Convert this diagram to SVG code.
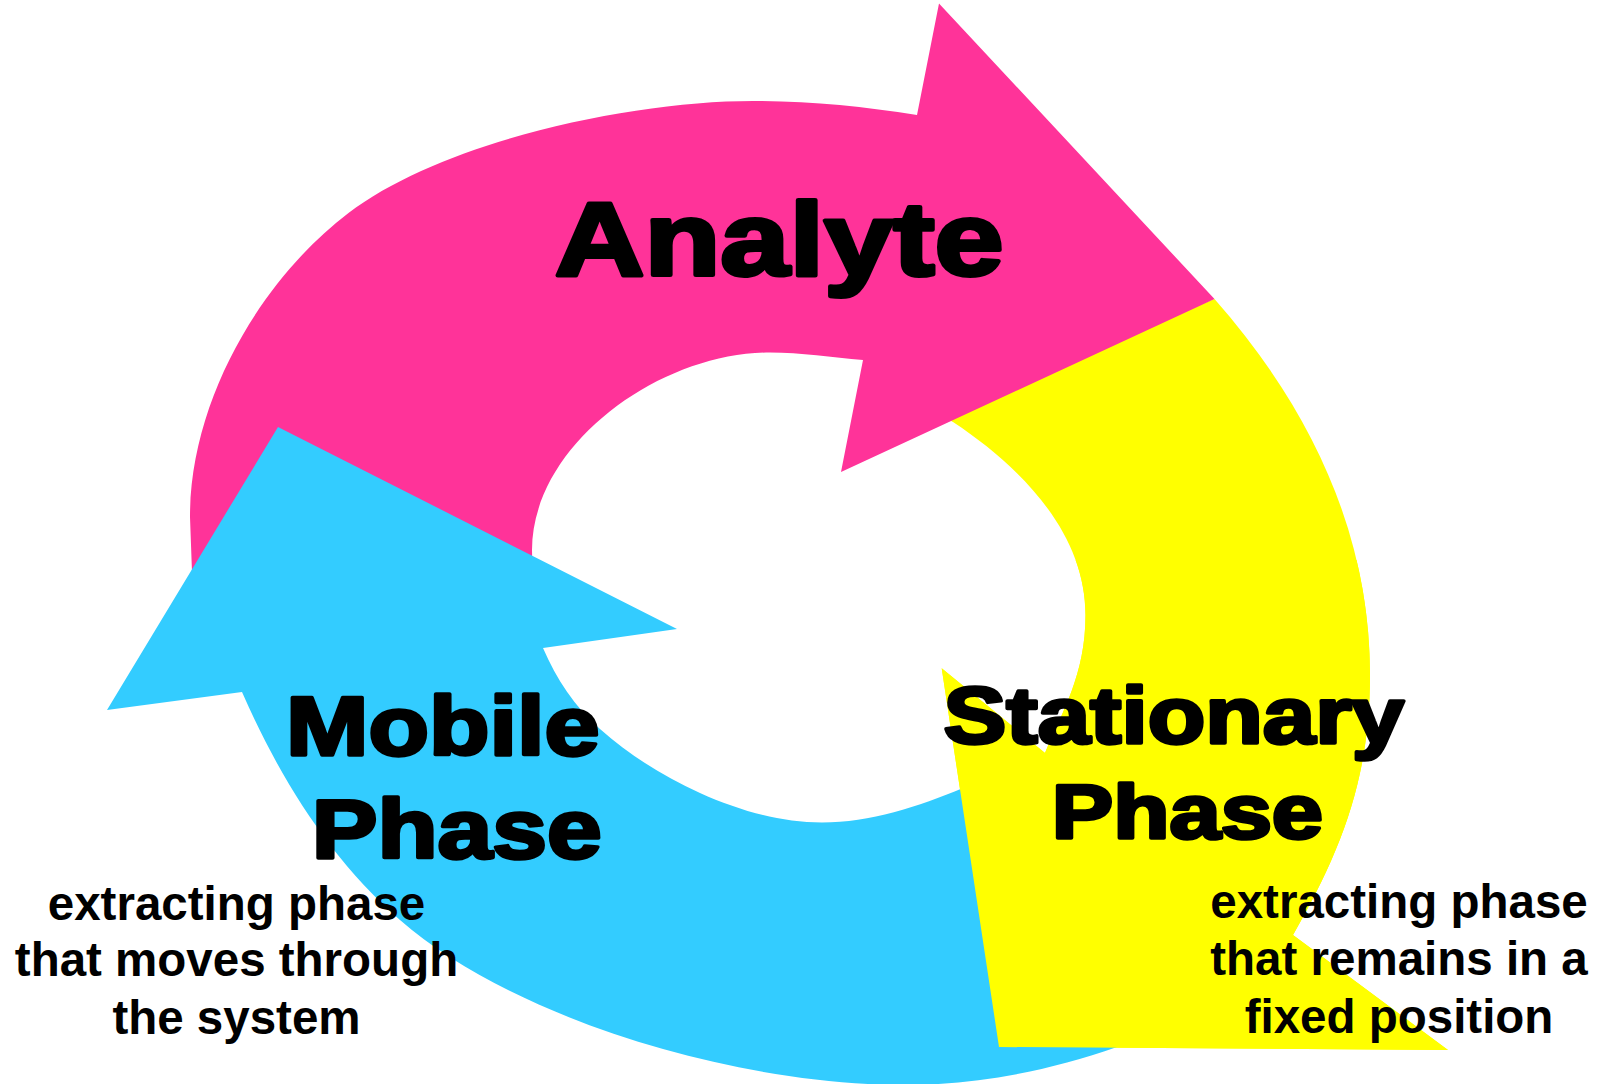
<svg xmlns="http://www.w3.org/2000/svg" xmlns:xlink="http://www.w3.org/1999/xlink" width="1607" height="1084" viewBox="0 0 1607 1084">
<style>
.pink{fill:#FF3399}
.cyan{fill:#33CCFF}
.yellow{fill:#FFFF00}
.h{font-family:"Liberation Sans",Arial,sans-serif;font-weight:bold;fill:#000;stroke:#000;stroke-linejoin:round}
.b{font-family:"Liberation Sans",Arial,sans-serif;font-weight:bold;font-size:47.5px;fill:#000;text-anchor:middle}
</style>
<defs>
<path id="yellow-arrow" class="yellow" d="M 1214.5 299 C 1320.1 419, 1370 545, 1370 675 C 1370 780, 1340.1 852.6, 1293 935 L 1448 1050 L 999 1047 L 941.7 668.3 L 1045 753 C 1062.2 711.4, 1085.5 675, 1085.5 615 C 1085.5 535, 1024 468.8, 953 422 L 935 412 Z"/>
<clipPath id="front"><rect x="0" y="560" width="1607" height="524"/></clipPath>
</defs>
<rect x="0" y="0" width="1607" height="1084" fill="#FFFFFF"/>
<g id="node-stationary-phase-tail">
<use xlink:href="#yellow-arrow" href="#yellow-arrow"/>
</g>
<g id="node-analyte">
<path class="pink" d="M 193 600 L 190 517 C 190 399, 262.4 278.2, 348.5 213 C 444.1 140.5, 633 101, 753 101 C 808 101, 862.7 106.3, 917 115 L 939 3.5 L 1214.5 299 L 841 472 L 863 360 C 832 357.5, 801 352.5, 770 352.5 C 658 352.5, 532 446, 532 550 L 533 600 Z"/>
<text class="h" x="554.7" y="274.7" font-size="104" stroke-width="4" textLength="449" lengthAdjust="spacingAndGlyphs">Analyte</text>
</g>
<g id="node-mobile-phase">
<path class="cyan" d="M 278 427 L 677 629 L 543 648 C 556.6 679.2, 574.5 706.5, 600 729 C 630 755.4, 663.6 776.6, 700 793 C 738.3 810.2, 780 822.5, 822 822.5 C 870 822.5, 918.7 806.6, 963 788 C 975 783, 987 776, 998 770 L 1200 1012 L 1117 1047 C 1049 1070.8, 977 1085, 905 1085 C 735 1085, 513.1 1018.6, 400 920 C 329.9 858.9, 279.2 777.3, 242 692 L 107 710 Z"/>
<text class="h" x="286" y="755" font-size="84" stroke-width="3.5" textLength="313.5" lengthAdjust="spacingAndGlyphs">Mobile</text>
<text class="h" x="311.8" y="857.5" font-size="84" stroke-width="3.5" textLength="290" lengthAdjust="spacingAndGlyphs">Phase</text>
<text class="b" x="236.5" y="920">extracting phase</text>
<text class="b" x="236.5" y="976">that moves through</text>
<text class="b" x="236.5" y="1034">the system</text>
</g>
<g id="node-stationary-phase">
<use xlink:href="#yellow-arrow" href="#yellow-arrow" clip-path="url(#front)"/>
<text class="h" x="943.5" y="743" font-size="80" stroke-width="3.5" textLength="460.7" lengthAdjust="spacingAndGlyphs">Stationary</text>
<text class="h" x="1051.8" y="838.3" font-size="76.5" stroke-width="3.5" textLength="271.3" lengthAdjust="spacingAndGlyphs">Phase</text>
<text class="b" x="1399" y="918">extracting phase</text>
<text class="b" x="1399" y="975">that remains in a</text>
<text class="b" x="1399" y="1033">fixed position</text>
</g>
</svg>
